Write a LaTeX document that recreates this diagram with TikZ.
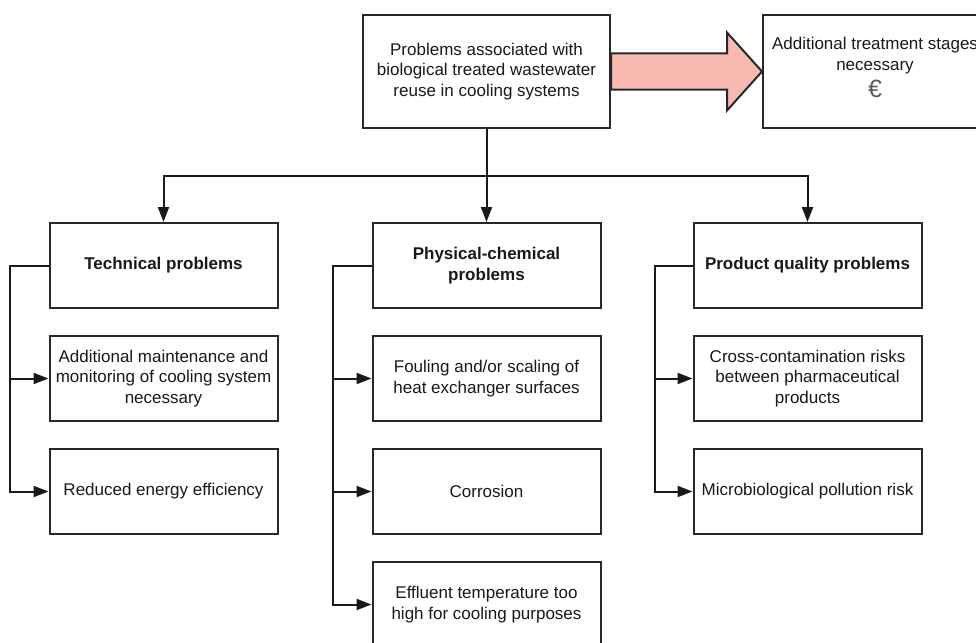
\documentclass[tikz,border=0pt]{standalone}
\usepackage{fontspec}
\setmainfont{Liberation Sans}
\usetikzlibrary{positioning,arrows.meta,calc}
\definecolor{boxline}{RGB}{40,40,40}
\definecolor{arrowfill}{RGB}{248,186,176}

\begin{document}
\begin{tikzpicture}[x=1pt, y=-1pt, node distance=26pt and 95pt,
    box/.style={rectangle, draw=boxline, line width=2pt, fill=white, minimum width=228pt, minimum height=85pt, inner sep=3pt, align=center, text=black!90, font=\fontsize{17}{20.5}\selectfont},
    headbox/.style={box, font=\fontsize{17}{20.5}\selectfont\bfseries},
    flow/.style={-{Triangle[length=15pt, width=11pt]}, line width=2pt, draw=black!90},
    bigarrow/.style={draw=boxline, line width=2pt, fill=arrowfill, line join=miter}]
        \useasboundingbox (0,0) rectangle (976,642);

        % Nodes
        \node[box, minimum width=247pt, minimum height=113pt] (top) at (486.5,71.5) {Problems associated with\\biological treated wastewater\\reuse in cooling systems};
        \node[box, minimum width=224pt, minimum height=113pt] (cost) [right=151pt of top] {Additional treatment stages\\necessary\\[5pt]{\fontsize{25}{28}\selectfont\color{black!65}€}\rule[-8pt]{0pt}{0pt}};
        \node[headbox] (phys) [below=93pt of top] {Physical-chemical\\problems};
        \node[headbox] (tech) [left=93pt of phys] {Technical problems};
        \node[headbox] (prod) [right=91pt of phys] {Product quality problems};
        \node[box] (maint) [below=of tech] {Additional maintenance and\\monitoring of cooling system\\necessary};
        \node[box] (energy) [below=of maint] {Reduced energy efficiency};
        \node[box] (foul) [below=of phys] {Fouling and/or scaling of\\heat exchanger surfaces};
        \node[box] (corr) [below=of foul] {Corrosion};
        \node[box] (temp) [below=of corr] {Effluent temperature too\\high for cooling purposes};
        \node[box] (cross) [below=of prod] {Cross-contamination risks\\between pharmaceutical\\products};
        \node[box] (micro) [below=of cross] {Microbiological pollution risk};
        \coordinate (split) at ($(top.south)!0.5!(phys.north)$);

        % Edges
        \draw[bigarrow] ([yshift=18pt]top.east) -- ([xshift=-35pt, yshift=18pt]cost.west) -- ([xshift=-35pt, yshift=39pt]cost.west) -- (cost.west) -- ([xshift=-35pt, yshift=-39pt]cost.west) -- ([xshift=-35pt, yshift=-18pt]cost.west) -- ([yshift=-18pt]top.east) -- cycle;
        \draw[flow] (top.south) -- (phys.north);
        \draw[flow] (split) -| (tech.north);
        \draw[flow] (split) -| (prod.north);
        \draw[flow] (tech.west) -- ++(-39,0) |- (maint.west);
        \draw[flow] (tech.west) -- ++(-39,0) |- (energy.west);
        \draw[flow] (phys.west) -- ++(-39,0) |- (foul.west);
        \draw[flow] (phys.west) -- ++(-39,0) |- (corr.west);
        \draw[flow] (phys.west) -- ++(-39,0) |- (temp.west);
        \draw[flow] (prod.west) -- ++(-38,0) |- (cross.west);
        \draw[flow] (prod.west) -- ++(-38,0) |- (micro.west);
\end{tikzpicture}
\end{document}
